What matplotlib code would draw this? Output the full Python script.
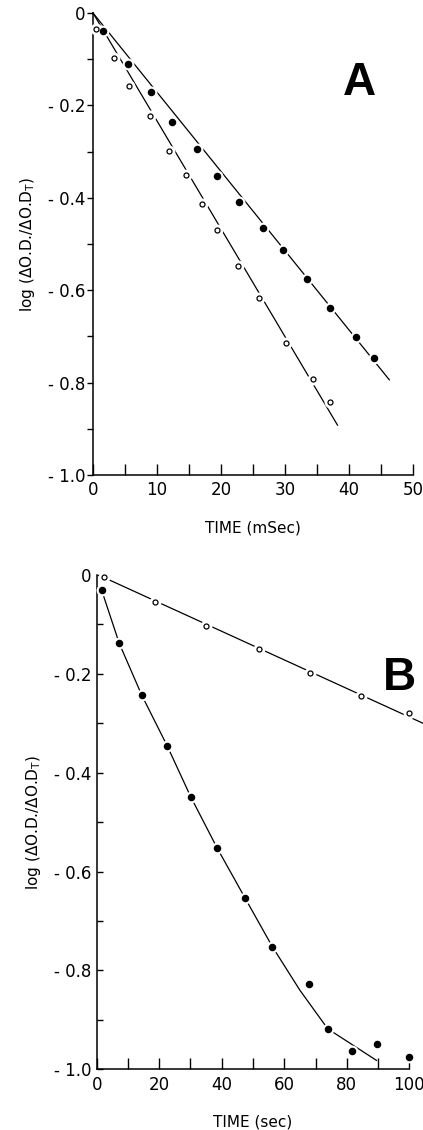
import numpy as np
import matplotlib
matplotlib.use("Agg")
import matplotlib.pyplot as plt

plt.rcParams['font.family'] = ['DejaVu Sans']
plt.rcParams['mathtext.default'] = 'regular'

# ======================================================
# DATI
# ======================================================
# Pannello A - tempo in mSec
tA_pieni = [1.6, 5.4, 9.1, 12.4, 16.2, 19.4, 22.8, 26.6, 29.7, 33.5, 37.1, 41.1, 43.9]
yA_pieni = [-0.040, -0.110, -0.172, -0.235, -0.295, -0.352, -0.410, -0.465,
            -0.514, -0.576, -0.639, -0.702, -0.747]
tA_vuoti = [0.4, 3.3, 5.7, 8.9, 11.9, 14.5, 17.0, 19.4, 22.6, 26.0, 30.2, 34.4, 37.0]
yA_vuoti = [-0.035, -0.098, -0.159, -0.223, -0.299, -0.351, -0.414, -0.470,
            -0.548, -0.616, -0.715, -0.792, -0.843]
# rette di fit (estremi)
fitA_pieni_t = [0.0, 46.3]
fitA_pieni_y = [0.0, -0.794]
fitA_vuoti_t = [0.0, 38.2]
fitA_vuoti_y = [0.0, -0.892]

# Pannello B - tempo in sec
tB_vuoti = [2.3, 18.6, 35.1, 51.8, 68.1, 84.6, 99.9]
yB_vuoti = [-0.005, -0.055, -0.103, -0.150, -0.198, -0.244, -0.279]
tB_pieni = [1.6, 7.2, 14.4, 22.5, 30.1, 38.5, 47.5, 56.2, 67.9, 73.9, 81.7, 89.6, 100.0]
yB_pieni = [-0.031, -0.138, -0.243, -0.345, -0.449, -0.552, -0.654, -0.752,
            -0.827, -0.918, -0.962, -0.949, -0.976]
fitB_vuoti_t = [2.3, 104.4]
fitB_vuoti_y = [-0.005, -0.300]
# curva di fit (letta lungo la linea)
fitB_pieni_t = [1.6, 7.2, 14.4, 22.5, 30.1, 38.5, 47.5, 56.2, 65.0, 73.9, 89.5]
fitB_pieni_y = [-0.031, -0.138, -0.243, -0.345, -0.449, -0.552, -0.654, -0.752,
                -0.840, -0.918, -0.982]

YLABEL = 'log (ΔO.D./ΔO.D$_T$)'

W, H = 423, 1130
fig = plt.figure(figsize=(W / 100, H / 100), dpi=100)


def box(x0, y0, x1, y1):
    # pixel (dall'alto) -> frazioni di figura
    return [x0 / W, 1 - y1 / H, (x1 - x0) / W, (y1 - y0) / H]


def serie(ax, t, y, pieno):
    # alone bianco che interrompe la linea attorno al punto
    ax.plot(t, y, 'o', ms=8.5, mfc='white', mec='none', zorder=3, clip_on=False)
    if pieno:
        ax.plot(t, y, 'o', ms=4.4, mfc='black', mec='black', zorder=4, clip_on=False)
    else:
        ax.plot(t, y, 'o', ms=3.6, mfc='white', mec='black', mew=0.9,
                zorder=4, clip_on=False)


def assi(ax, xmax, xstep, xlab, ydir, ypad):
    for s in ('top', 'right'):
        ax.spines[s].set_visible(False)
    for s in ('left', 'bottom'):
        ax.spines[s].set_linewidth(1.1)
    ax.set_xlim(0, xmax)
    ax.set_ylim(-1.0, 0)
    ax.set_xticks(np.arange(0, xmax + 0.1, xstep), minor=True)
    ax.set_xticks(np.arange(0, xmax + 0.1, xmax / 5))
    ax.set_yticks(np.arange(-1.0, 0.01, 0.2))
    ax.set_yticks(np.arange(-1.0, 0.01, 0.1), minor=True)
    ax.set_xticklabels([f'{v:g}' for v in np.arange(0, xmax + 0.1, xmax / 5)])
    ax.set_yticklabels(['- 1.0', '- 0.8', '- 0.6', '- 0.4', '- 0.2', '0'])
    ax.tick_params(axis='x', which='both', direction='in', length=8, width=1.0,
                   labelsize=12, pad=4.5)
    ax.tick_params(axis='y', which='both', direction=ydir, length=4, width=1.0,
                   labelsize=12, pad=ypad)
    ax.set_xlabel(xlab, fontsize=11, labelpad=15)
    ax.set_ylabel(YLABEL, fontsize=11, labelpad=8)


# ---------------- Pannello A ----------------
axA = fig.add_axes(box(93, 13, 413, 475))
axA.plot(fitA_pieni_t, fitA_pieni_y, color='black', lw=0.9, zorder=2, clip_on=False)
axA.plot(fitA_vuoti_t, fitA_vuoti_y, color='black', lw=0.9, zorder=2, clip_on=False)
serie(axA, tA_pieni, yA_pieni, True)
serie(axA, tA_vuoti, yA_vuoti, False)
assi(axA, 50, 5, 'TIME (mSec)', 'out', 1.5)
axA.text(0.834, 0.848, 'A', transform=axA.transAxes, ha='center', va='center',
         fontsize=33, fontweight='bold', family='Liberation Sans')

# ---------------- Pannello B ----------------
axB = fig.add_axes(box(96.7, 575, 409.3, 1069.3))
axB.plot(fitB_vuoti_t, fitB_vuoti_y, color='black', lw=0.9, zorder=2, clip_on=False)
axB.plot(fitB_pieni_t, fitB_pieni_y, color='black', lw=0.9, zorder=2, clip_on=False)
serie(axB, tB_vuoti, yB_vuoti, False)
serie(axB, tB_pieni, yB_pieni, True)
assi(axB, 100, 10, 'TIME (sec)', 'in', 3.5)
axB.text(0.970, 0.7915, 'B', transform=axB.transAxes, ha='center', va='center',
         fontsize=33, fontweight='bold', family='Liberation Sans')

fig.savefig('out.png', dpi=100)
